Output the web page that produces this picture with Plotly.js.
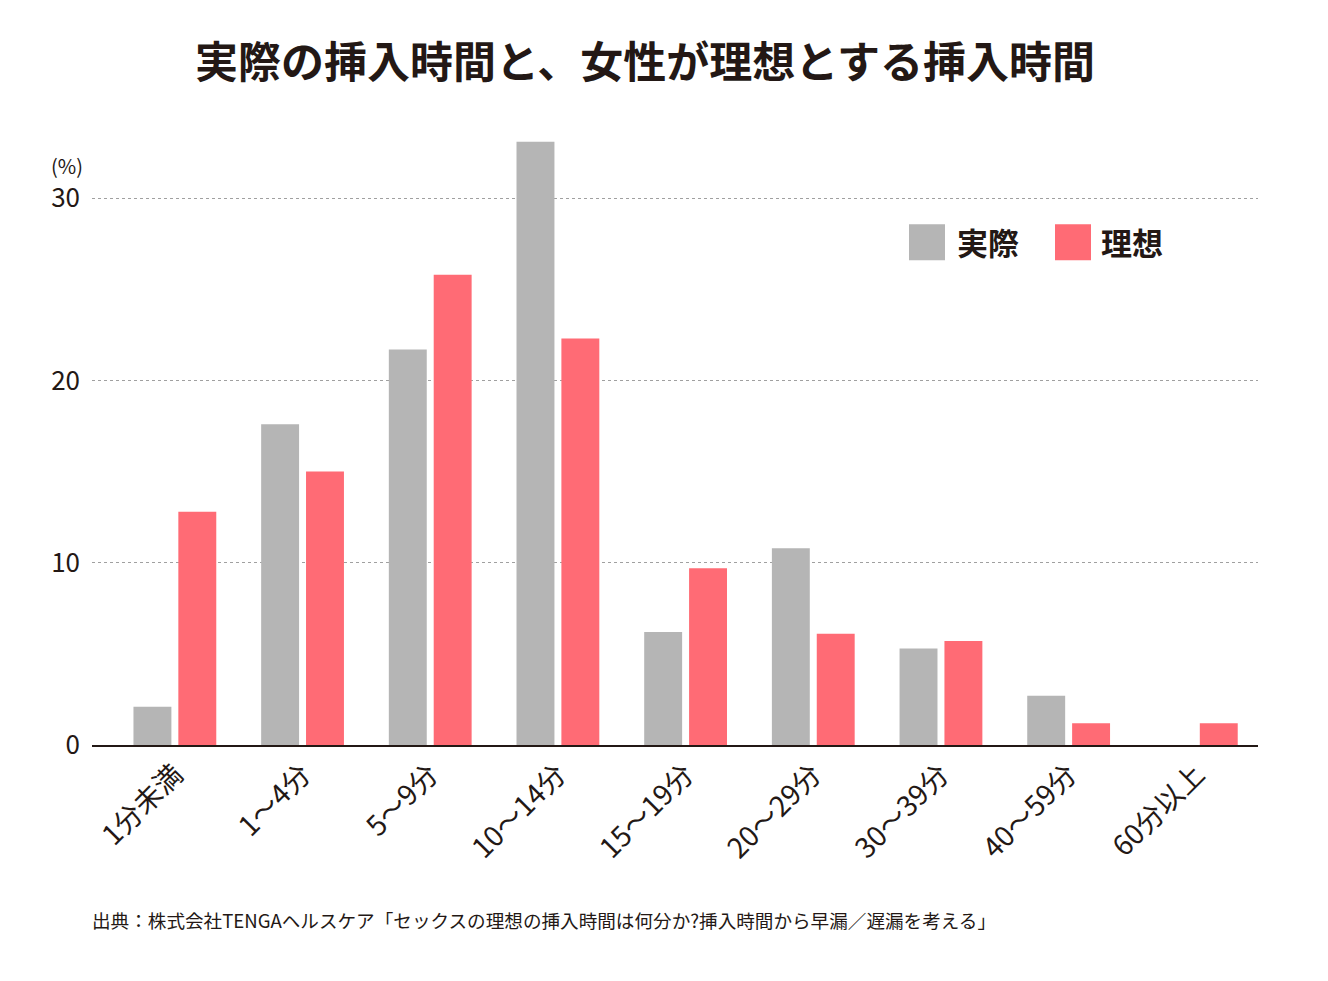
<!DOCTYPE html>
<html>
<head>
<meta charset="utf-8">
<script src="https://cdn.plot.ly/plotly-3.0.1.min.js"></script>
<style>html,body{margin:0;padding:0;background:#fff;}#chart{width:1328px;height:981px;}</style>
</head>
<body>
<div id="chart"></div>
<script>
const categories = ["1分未満", "1～4分", "5～9分", "10～14分", "15～19分", "20～29分", "30～39分", "40～59分", "60分以上"];
const actualValues = [2.1, 17.6, 21.7, 33.1, 6.2, 10.8, 5.3, 2.7, 0];
const idealValues = [12.8, 15.0, 25.8, 22.3, 9.7, 6.1, 5.7, 1.2, 1.2];
const seriesNames = ["実際", "理想"];
const yTicks = [0, 10, 20, 30];

const FONT = '"Noto Sans CJK JP", "Noto Sans", sans-serif';
const INK = '#231815';
const GRAY = '#b5b5b5';
const RED = '#ff6b75';

const idx = categories.map((c, i) => i);

const traces = [
  {type: 'bar', name: seriesNames[0], x: idx, y: actualValues, marker: {color: GRAY}, showlegend: false, hoverinfo: 'y'},
  {type: 'bar', name: seriesNames[1], x: idx, y: idealValues, marker: {color: RED}, showlegend: false, hoverinfo: 'y'}
];

const L = 92, R = 1258, T = 106.6, B = 745;
const px = v => (v - L) / (R - L);
const py = v => (B - v) / (B - T);

const layout = {
  width: 1328, height: 981,
  paper_bgcolor: '#fff', plot_bgcolor: '#fff',
  margin: {l: L, r: 1328 - R, t: T, b: 981 - B, pad: 0},
  barmode: 'group', bargap: 0.297, bargroupgap: 0.155,
  font: {family: FONT, color: INK},
  title: {
    text: '実際の挿入時間と、女性が理想とする挿入時間',
    font: {family: FONT, size: 43, color: INK, weight: 'bold'},
    x: 645 / 1328, xanchor: 'center', xref: 'container',
    y: 1 - 63 / 981, yanchor: 'middle', yref: 'container'
  },
  xaxis: {
    tickmode: 'array', tickvals: idx, ticktext: categories,
    range: [-0.649, 8.483], tickangle: -45,
    tickfont: {family: FONT, size: 28, color: INK},
    showline: true, linecolor: INK, linewidth: 2,
    showgrid: false, zeroline: false, ticks: '', fixedrange: true
  },
  yaxis: {
    range: [0, 35], tickmode: 'array', tickvals: yTicks,
    tickfont: {family: FONT, size: 26, color: INK},
    showgrid: true, gridcolor: '#a0a0a0', gridwidth: 1, griddash: 'dot',
    zeroline: false, showline: false, ticks: '', ticklabelstandoff: 11, fixedrange: true
  },
  shapes: [
    {type: 'rect', xref: 'paper', yref: 'paper', x0: px(909), x1: px(945), y0: py(260), y1: py(224), fillcolor: GRAY, line: {width: 0}},
    {type: 'rect', xref: 'paper', yref: 'paper', x0: px(1055), x1: px(1091), y0: py(260), y1: py(224), fillcolor: RED, line: {width: 0}}
  ],
  annotations: [
    {xref: 'paper', yref: 'paper', x: px(955), y: py(241), xanchor: 'left', yanchor: 'middle', showarrow: false,
     text: seriesNames[0], font: {family: FONT, size: 31, color: INK, weight: 'bold'}},
    {xref: 'paper', yref: 'paper', x: px(1099), y: py(241), xanchor: 'left', yanchor: 'middle', showarrow: false,
     text: seriesNames[1], font: {family: FONT, size: 31, color: INK, weight: 'bold'}},
    {xref: 'paper', yref: 'paper', x: px(85), y: py(165), xanchor: 'right', yanchor: 'middle', showarrow: false,
     text: '(%)', font: {family: FONT, size: 20, color: INK}},
    {xref: 'paper', yref: 'paper', x: px(90), y: py(920), xanchor: 'left', yanchor: 'middle', showarrow: false,
     text: '出典：株式会社TENGAヘルスケア「セックスの理想の挿入時間は何分か?挿入時間から早漏／遅漏を考える」',
     font: {family: FONT, size: 18.6, color: INK}}
  ]
};

Plotly.newPlot('chart', traces, layout, {displayModeBar: false, staticPlot: true});
</script>
</body>
</html>
